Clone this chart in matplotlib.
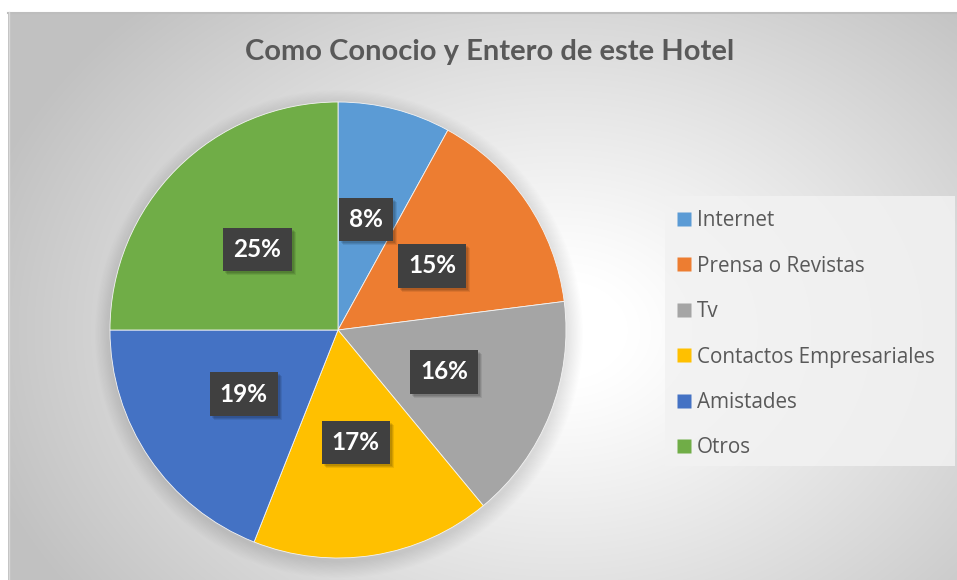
import numpy as np
import matplotlib
matplotlib.use("Agg")
import matplotlib.pyplot as plt
from matplotlib.patches import Rectangle, Circle
from matplotlib.lines import Line2D

categories = ["Internet", "Prensa o Revistas", "Tv", "Contactos Empresariales", "Amistades", "Otros"]
values = [8, 15, 16, 17, 19, 25]
colors = ["#5B9BD5", "#ED7D31", "#A5A5A5", "#FFC000", "#4472C4", "#70AD47"]
title = "Como Conocio y Entero de este Hotel"

W, H = 957, 580
fig = plt.figure(figsize=(W / 100, H / 100), dpi=100)
fig.patch.set_facecolor("white")

bg = fig.add_axes([0, 0, 1, 1])
bg.set_xlim(0, W)
bg.set_ylim(H, 0)
bg.axis("off")

x0, y0, x1, y1 = 8, 12, W, H
yy, xx = np.mgrid[y0:y1, x0:x1]
cx, cy = 560, 330
d = np.sqrt(((xx - cx) / 560.0) ** 2 + ((yy - cy) / 420.0) ** 2)
g = np.clip((d - 0.12) / 0.95, 0, 1) ** 1.1
val = 1.0 - g * (1.0 - 0.76)
img = np.dstack([val, val, val])
bg.imshow(img, extent=(x0, x1, y1, y0), interpolation="bilinear", zorder=0)
bg.plot([x0, x1], [y0 + 0.5, y0 + 0.5], color="#bdbdbd", lw=1.5, zorder=1)
bg.plot([x0 + 0.5, x0 + 0.5], [y0, y1], color="#d9d9d9", lw=1, zorder=1)

pcx, pcy, R = 338, 330, 228
for i in range(14):
    bg.add_patch(Circle((pcx + 1, pcy + 4), R + 16 - i * 1.2, color="#000000", alpha=0.009, lw=0, zorder=2))

bg.add_patch(Rectangle((665, 196), 290, 270, facecolor="#f2f2f2", edgecolor="none", alpha=0.85, zorder=2))

bg.text(490, 52, title, ha="center", va="center", fontsize=21, fontweight="bold",
        color="#595959", family="Lato", zorder=5)

ax = fig.add_axes([(pcx - R) / W, (H - pcy - R) / H, 2 * R / W, 2 * R / H])
ax.set_facecolor("none")
wedges, texts, autotexts = ax.pie(
    values, colors=colors, startangle=90, counterclock=False,
    autopct=lambda p: f"{p:.0f}%", pctdistance=0.5,
    wedgeprops=dict(linewidth=0.6, edgecolor="#f4f4f4"),
    textprops=dict(color="white", fontsize=17.5, fontweight="bold", family="Lato"),
)
for t in autotexts:
    t.set_zorder(6)
    t.set_bbox(dict(boxstyle="square,pad=0.42", facecolor="#404040", edgecolor="none"))
ax.set_xlim(-1, 1)
ax.set_ylim(-1, 1)
ax.set_aspect("equal")
ax.axis("off")

# drop shadows for the label boxes (drawn on an overlay axes below the labels)
fig.canvas.draw()
ov = fig.add_axes([0, 0, 1, 1], zorder=ax.get_zorder() + 0.5)
ov.set_xlim(0, W)
ov.set_ylim(H, 0)
ov.axis("off")
ov.patch.set_alpha(0)
for t in autotexts:
    bb = t.get_bbox_patch().get_window_extent()
    for k, a in enumerate([0.10, 0.10, 0.08]):
        ov.add_patch(Rectangle((bb.x0 + 2 + k, H - bb.y1 + 2 + k), bb.width, bb.height,
                               facecolor="black", alpha=a, edgecolor="none"))
# put labels above overlay
ax2 = fig.add_axes(ax.get_position(), zorder=ov.get_zorder() + 0.5)
ax2.set_xlim(-1, 1)
ax2.set_ylim(-1, 1)
ax2.set_aspect("equal")
ax2.axis("off")
ax2.patch.set_alpha(0)
for t in autotexts:
    px, py = t.get_position()
    t.set_visible(False)
    nt = ax2.text(px, py, t.get_text(), ha="center", va="center", color="white",
                  fontsize=17.5, fontweight="bold", family="Lato")
    nt.set_bbox(dict(boxstyle="square,pad=0.42", facecolor="#404040", edgecolor="none"))

handles = [Line2D([0], [0], marker="s", linestyle="none", markersize=9.5,
                  markerfacecolor=c, markeredgecolor="none") for c in colors]
leg = fig.legend(handles, categories, loc="upper left",
                 bbox_to_anchor=(670 / W, 1 - 202 / H), frameon=False,
                 prop=dict(family="Open Sans", size=14.9), labelcolor="#595959",
                 handlelength=0.6, handletextpad=0.3, labelspacing=1.18,
                 borderaxespad=0)

fig.savefig("out.png", dpi=100)
